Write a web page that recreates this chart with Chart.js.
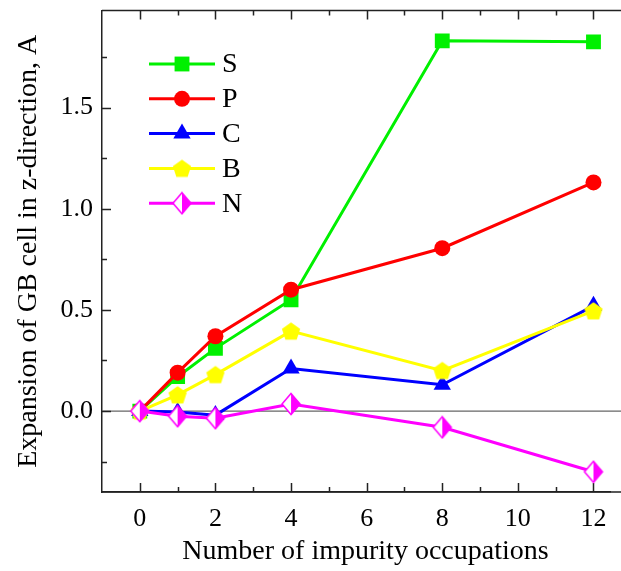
<!DOCTYPE html>
<html>
<head>
<meta charset="utf-8">
<script src="https://cdn.jsdelivr.net/npm/chart.js@4.4.1/dist/chart.umd.min.js"></script>
<style>
  body { margin: 0; background: #fff; }
  #wrap { width: 621px; height: 571px; }
</style>
</head>
<body>
<div id="wrap"><canvas id="chart" width="621" height="571"></canvas></div>
<script>
// occupations on x axis
const occupations = [0, 1, 2, 4, 8, 12];
// expansion values per impurity
const sValues = [0, 0.17, 0.31, 0.55, 1.83, 1.825];
const pValues = [0, 0.19, 0.37, 0.60, 0.805, 1.13];
const cValues = [0, -0.005, -0.02, 0.21, 0.13, 0.52];
const bValues = [0, 0.08, 0.18, 0.395, 0.20, 0.495];
const nValues = [0, -0.025, -0.035, 0.035, -0.08, -0.30];
const seriesNames = ["S", "P", "C", "B", "N"];
const xTickLabels = [0, 2, 4, 6, 8, 10, 12];
const yTickLabels = [0, 0.5, 1.0, 1.5];
const xTitle = 'Number of impurity occupations';
const yTitle = 'Expansion of GB cell in z-direction, A';

const FONT = "'Liberation Serif', 'Times New Roman', serif";

// pentagon marker
function makePentagon(color) {
    const c = document.createElement('canvas');
    c.width = 20; c.height = 20;
    const ctx = c.getContext('2d');
    ctx.fillStyle = color;
    ctx.beginPath();
    for (let i = 0; i < 5; i++) {
        const a = -Math.PI / 2 + i * 2 * Math.PI / 5;
        const px = 10 + 9.6 * Math.cos(a), py = 10.8 + 9.6 * Math.sin(a);
        if (i === 0) ctx.moveTo(px, py); else ctx.lineTo(px, py);
    }
    ctx.closePath();
    ctx.fill();
    return c;
}

// half filled diamond marker (left open, right filled)
function makeHalfDiamond(color) {
    const c = document.createElement('canvas');
    c.width = 22; c.height = 24;
    const ctx = c.getContext('2d');
    const cx = 11, cy = 12, hw = 9, hh = 10.5;
    ctx.fillStyle = '#fff';
    ctx.beginPath();
    ctx.moveTo(cx, cy - hh); ctx.lineTo(cx - hw, cy); ctx.lineTo(cx, cy + hh); ctx.closePath();
    ctx.fill();
    ctx.fillStyle = color;
    ctx.beginPath();
    ctx.moveTo(cx, cy - hh); ctx.lineTo(cx + hw, cy); ctx.lineTo(cx, cy + hh); ctx.closePath();
    ctx.fill();
    ctx.strokeStyle = color;
    ctx.lineWidth = 1.5;
    ctx.beginPath();
    ctx.moveTo(cx, cy - hh); ctx.lineTo(cx + hw, cy); ctx.lineTo(cx, cy + hh); ctx.lineTo(cx - hw, cy); ctx.closePath();
    ctx.stroke();
    return c;
}

function toPoints(vals) {
    return vals.map((v, i) => ({ x: occupations[i], y: v }));
}

const colors = ['#00f000', '#ff0000', '#0000ff', '#ffff00', '#ff00ff'];
const styles = ['rect', 'circle', 'triangle', makePentagon(colors[3]), makeHalfDiamond(colors[4])];
const radii = [10.5, 8, 10, 10, 10];
const allValues = [sValues, pValues, cValues, bValues, nValues];

const datasets = seriesNames.map((name, i) => ({
    label: name,
    data: toPoints(allValues[i]),
    borderColor: colors[i],
    backgroundColor: colors[i],
    borderWidth: 3,
    pointStyle: styles[i],
    pointRadius: radii[i],
    pointHoverRadius: radii[i],
    pointBorderWidth: 0,
    order: 5 - i
}));

// ticks pointing inward, top frame, zero line
const framePlugin = {
    id: 'frame',
    beforeDatasetsDraw(chart) {
        const ctx = chart.ctx;
        const a = chart.chartArea;
        const xs = chart.scales.x, ys = chart.scales.y;
        const rightEdge = chart.width;
        ctx.save();
        // zero line
        ctx.strokeStyle = '#666';
        ctx.lineWidth = 1.3;
        ctx.beginPath();
        ctx.moveTo(a.left, ys.getPixelForValue(0));
        ctx.lineTo(rightEdge, ys.getPixelForValue(0));
        ctx.stroke();
        ctx.strokeStyle = '#222';
        ctx.lineWidth = 1.5;
        // top frame and bottom axis to the edge
        ctx.beginPath();
        ctx.moveTo(a.left, a.top);
        ctx.lineTo(rightEdge, a.top);
        ctx.moveTo(a.left, a.bottom);
        ctx.lineTo(rightEdge, a.bottom);
        ctx.stroke();
        ctx.beginPath();
        for (let v = 0; v <= 12; v++) {
            const len = v % 2 === 0 ? 9 : 5;
            const px = Math.round(xs.getPixelForValue(v)) + 0.5;
            ctx.moveTo(px, a.bottom); ctx.lineTo(px, a.bottom - len);
            ctx.moveTo(px, a.top); ctx.lineTo(px, a.top + len);
        }
        for (let k = -1; k <= 7; k++) {
            const v = k * 0.25;
            const len = k % 2 === 0 ? 9 : 5;
            const py = Math.round(ys.getPixelForValue(v)) + 0.5;
            ctx.moveTo(a.left, py); ctx.lineTo(a.left + len, py);
        }
        ctx.stroke();
        ctx.restore();
    },
    afterDraw(chart) {
        const ctx = chart.ctx;
        ctx.save();
        // x axis title, centred on the full frame width
        ctx.fillStyle = '#000';
        ctx.font = '28px ' + FONT;
        ctx.textAlign = 'center';
        ctx.textBaseline = 'middle';
        ctx.fillText(xTitle, (chart.chartArea.left + chart.width) / 2 + 4, 552);
        // legend inside plot
        ctx.textAlign = 'left';
        chart.data.datasets.forEach((ds, i) => {
            const y = 64 + i * 34.8;
            ctx.strokeStyle = ds.borderColor;
            ctx.lineWidth = 3;
            ctx.beginPath();
            ctx.moveTo(149, y); ctx.lineTo(215, y);
            ctx.stroke();
            ctx.fillStyle = ds.backgroundColor;
            ctx.strokeStyle = ds.borderColor;
            Chart.helpers.drawPoint(ctx, {
                pointStyle: ds.pointStyle,
                radius: ds.pointRadius,
                borderWidth: 0
            }, 182, y);
            ctx.fillStyle = '#000';
            ctx.font = '28px ' + FONT;
            ctx.fillText(ds.label, 222, y + 1);
        });
        ctx.restore();
    }
};

new Chart(document.getElementById('chart'), {
    type: 'line',
    data: { datasets: datasets },
    options: {
        responsive: false,
        animation: false,
        layout: { padding: { top: 4, right: 1, left: 0, bottom: 0 } },
        plugins: { legend: { display: false }, tooltip: { enabled: false } },
        scales: {
            x: {
                type: 'linear',
                min: -1,
                max: 12.45,
                afterBuildTicks: s => { s.ticks = xTickLabels.map(v => ({ value: v })); },
                afterFit: s => { s.height = 79; s.paddingLeft = 0; s.paddingRight = 0; },
                grid: { display: false, drawTicks: false },
                border: { display: true, color: '#222', width: 1.5 },
                ticks: { color: '#000', padding: 12, font: { family: FONT, size: 26 } },
                title: { display: false, text: xTitle }
            },
            y: {
                min: -0.4,
                max: 1.98,
                afterBuildTicks: s => { s.ticks = yTickLabels.map(v => ({ value: v })); },
                afterFit: s => { s.width = 102; s.paddingTop = 0; s.paddingBottom = 0; },
                grid: { display: false, drawTicks: false },
                border: { display: true, color: '#222', width: 1.5 },
                ticks: {
                    color: '#000',
                    padding: 9,
                    font: { family: FONT, size: 26 },
                    callback: v => v.toFixed(1)
                },
                title: {
                    display: true,
                    text: yTitle,
                    color: '#000',
                    padding: { top: 12, bottom: 0 },
                    font: { family: FONT, size: 28 }
                }
            }
        }
    },
    plugins: [framePlugin]
});
</script>
</body>
</html>
